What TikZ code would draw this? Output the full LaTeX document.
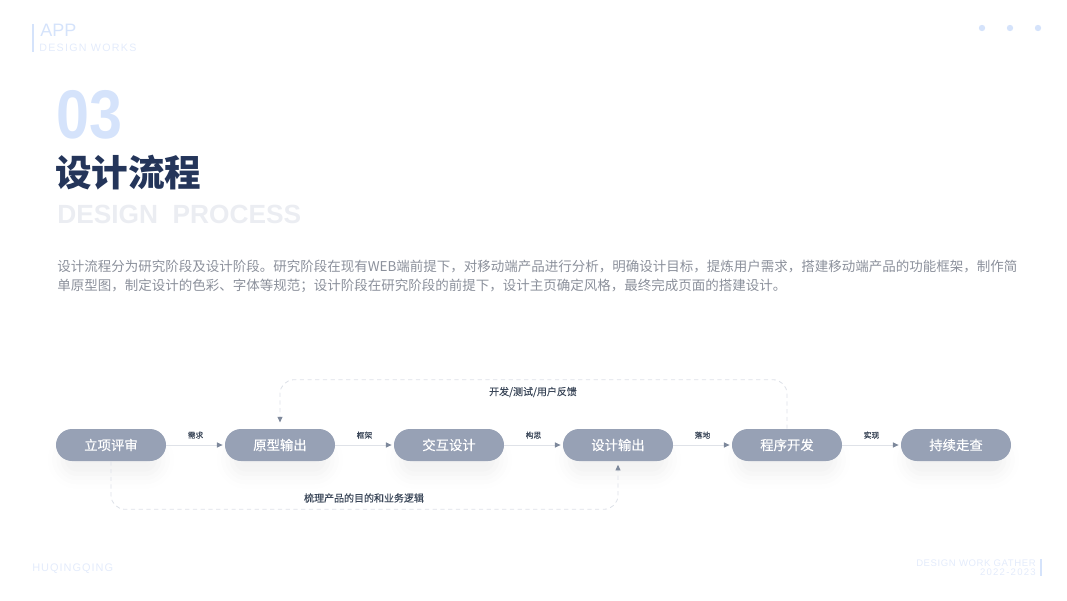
\documentclass[tikz,border=0pt]{standalone}
\usepackage{fontspec}
\setmainfont{Noto Sans CJK SC}
\newfontfamily\latinsf{Liberation Sans}
\usetikzlibrary{arrows.meta,shadows.blur}
\definecolor{pill}{HTML}{97A1B5}
\definecolor{navy}{HTML}{24355A}
\definecolor{para}{HTML}{8B909B}
\definecolor{lbl}{HTML}{3A4658}
\definecolor{flowline}{HTML}{DFE2E8}
\definecolor{tipc}{HTML}{7D889B}
\definecolor{dashc}{HTML}{DDE1E8}
\definecolor{paleblue}{HTML}{D5E3FB}
\definecolor{faintblue}{HTML}{E3EBFB}
\definecolor{ghost}{HTML}{EBEDF2}

\begin{document}
\begin{tikzpicture}[x=0.025cm, y=-0.025cm,
  every node/.style={inner sep=0pt},
  stage/.style={rectangle, rounded corners=0.4cm, fill=pill, text=white,
    minimum width=2.75cm, minimum height=0.8cm,
    font=\fontsize{9.5}{9.5}\selectfont\addfontfeatures{FakeBold=0.4},
    blur shadow={shadow xshift=0pt, shadow yshift=-12pt, shadow opacity=6,
      shadow blur radius=12pt, shadow scale=0.88}},
  flow/.style={draw=flowline, line width=0.6pt, shorten >=1.5pt,
    -{Triangle[length=4pt, width=3.6pt, color=tipc]}},
  loopline/.style={draw=dashc, line width=0.6pt, dash pattern=on 3pt off 2.5pt,
    rounded corners=0.35cm, -{Triangle[length=4pt, width=3.6pt, color=tipc]}},
  flowlbl/.style={text=lbl, font=\fontsize{5.5}{5.5}\selectfont\addfontfeatures{FakeBold=0.25}},
  looplbl/.style={text=lbl, font=\fontsize{7.1}{7.1}\selectfont\addfontfeatures{FakeBold=0.25}}]
  \useasboundingbox (0,0) rectangle (1067,600);

  % Header
  \fill[paleblue] (32,24) rectangle (34,52);
  \node[anchor=south west, text=paleblue, font=\latinsf\fontsize{12.8}{12.8}\selectfont] (app) at (40,37) {APP};
  \node[anchor=south west, text=faintblue, font=\latinsf\fontsize{7.6}{7.6}\selectfont\addfontfeatures{LetterSpace=12}] (works) at (39,52) {DESIGN WORKS};
  \foreach \x in {982,1010,1038}
    \fill[paleblue] (\x,28) circle (3.2);

  % Title block
  \node[anchor=south west, text=paleblue, xscale=0.86,
    font=\latinsf\bfseries\fontsize{49}{49}\selectfont] (num) at (56,140) {03};
  \node[anchor=west, text=navy, font=\bfseries\fontsize{26}{26}\selectfont] (title) at (55,173) {设计流程};
  \node[anchor=south west, text=ghost, font=\latinsf\bfseries\fontsize{18.7}{18.7}\selectfont] (process) at (57,224)
    {DESIGN\hspace{0.55em}PROCESS};
  \node[anchor=west, align=left, text=para, font=\fontsize{9.6}{13.5}\selectfont] (intro) at (57,276.5)
    {设计流程分为研究阶段及设计阶段。研究阶段在现有WEB端前提下，对移动端产品进行分析，明确设计目标，提炼用户需求，搭建移动端产品的功能框架，制作简\\
     单原型图，制定设计的色彩、字体等规范；设计阶段在研究阶段的前提下，设计主页确定风格，最终完成页面的搭建设计。};

  % Stages
  \node[stage] (review) at (111,445) {立项评审};
  \node[stage] (proto) at (280,445) {原型输出};
  \node[stage] (interact) at (449,445) {交互设计};
  \node[stage] (designout) at (618,445) {设计输出};
  \node[stage] (develop) at (787,445) {程序开发};
  \node[stage] (track) at (956,445) {持续走查};

  \draw[flow] (review) -- node[flowlbl, midway, yshift=7pt] {需求} (proto);
  \draw[flow] (proto) -- node[flowlbl, midway, yshift=7pt] {框架} (interact);
  \draw[flow] (interact) -- node[flowlbl, midway, yshift=7pt] {构思} (designout);
  \draw[flow] (designout) -- node[flowlbl, midway, yshift=7pt] {落地} (develop);
  \draw[flow] (develop) -- node[flowlbl, midway, yshift=7pt] {实现} (track);

  % Feedback loops
  \draw[loopline, shorten >=4.5pt] (develop.north) -- ++(0,-49) -| (proto.north);
  \node[looplbl] (feedback) at (533,392) {开发/测试/用户反馈};
  \draw[loopline, shorten >=2.5pt] (review.south) -- ++(0,48) -| (designout.south);
  \node[looplbl] (logic) at (364,498) {梳理产品的目的和业务逻辑};

  % Footer
  \node[anchor=south west, text=faintblue, font=\latinsf\fontsize{7.8}{7.8}\selectfont\addfontfeatures{LetterSpace=9}] (author) at (32,574) {HUQINGQING};
  \node[anchor=south east, text=faintblue, font=\latinsf\fontsize{6.8}{6.8}\selectfont\addfontfeatures{LetterSpace=6}] (gather) at (1036,567) {DESIGN WORK GATHER};
  \node[anchor=south east, text=faintblue, font=\latinsf\fontsize{6.8}{6.8}\selectfont\addfontfeatures{LetterSpace=13}] (years) at (1036,576) {2022-2023};
  \fill[paleblue] (1040,559) rectangle (1042,576);
\end{tikzpicture}
\end{document}
